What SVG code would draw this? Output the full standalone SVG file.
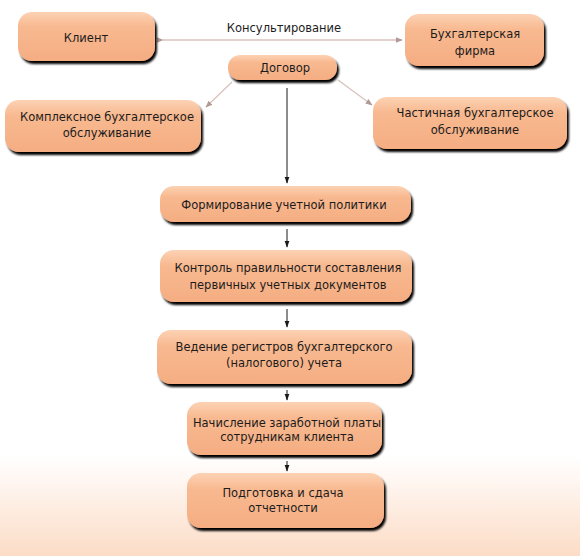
<svg xmlns="http://www.w3.org/2000/svg" width="580" height="556" viewBox="0 0 580 556">
<defs>
  <linearGradient id="bg" x1="0" y1="0" x2="0" y2="1">
    <stop offset="0" stop-color="#ffffff"/>
    <stop offset="0.82" stop-color="#ffffff"/>
    <stop offset="1" stop-color="#fcdcc6"/>
  </linearGradient>
  <linearGradient id="box" x1="0" y1="0" x2="0" y2="1">
    <stop offset="0" stop-color="#fcd2b4"/>
    <stop offset="0.3" stop-color="#f8b990"/>
    <stop offset="1" stop-color="#f5ad82"/>
  </linearGradient>
  <filter id="sh" x="-10%" y="-20%" width="125%" height="150%">
    <feGaussianBlur in="SourceAlpha" stdDeviation="0.9"/>
    <feOffset dx="2" dy="3" result="b"/>
    <feComponentTransfer><feFuncA type="linear" slope="1"/></feComponentTransfer>
    <feMerge><feMergeNode/><feMergeNode in="SourceGraphic"/></feMerge>
  </filter>
  <marker id="ag" viewBox="0 0 10 10" refX="9" refY="5" markerWidth="7" markerHeight="7" orient="auto" markerUnits="userSpaceOnUse">
    <path d="M0,1 L10,5 L0,9 z" fill="#b09a95"/>
  </marker>
  <marker id="ak" viewBox="0 0 10 10" refX="9" refY="5" markerWidth="7" markerHeight="7" orient="auto" markerUnits="userSpaceOnUse">
    <path d="M0,1.5 L10,5 L0,8.5 z" fill="#1a1a1a"/>
  </marker>
</defs>
<style>
  .n rect { fill: url(#box); filter: url(#sh); }
  .n text { font-family: "DejaVu Sans", Verdana, sans-serif; font-size: 11.5px; fill: #1c1c1c; text-anchor: middle; }
  .lbl { font-family: "DejaVu Sans", Verdana, sans-serif; font-size: 11.5px; fill: #1c1c1c; text-anchor: middle; }
  .cg { stroke: #d9c2bc; stroke-width: 1.3; fill: none; }
  .ck { stroke: #1a1a1a; stroke-width: 1; fill: none; }
</style>
<rect x="0" y="0" width="580" height="556" fill="url(#bg)"/>

<g id="connectors">
  <line class="cg" x1="163" y1="40" x2="402" y2="40" marker-start="url(#ag)" marker-end="url(#ag)"/>
  <line class="cg" x1="232" y1="82" x2="206" y2="107" marker-end="url(#ag)"/>
  <line class="cg" x1="338" y1="80" x2="372" y2="105" marker-end="url(#ag)"/>
  <line class="ck" x1="287" y1="88" x2="287" y2="183" marker-end="url(#ak)"/>
  <line class="ck" x1="287" y1="229" x2="287" y2="247" marker-end="url(#ak)"/>
  <line class="ck" x1="287" y1="309" x2="287" y2="327" marker-end="url(#ak)"/>
  <line class="ck" x1="287" y1="390" x2="287" y2="400" marker-end="url(#ak)"/>
  <line class="ck" x1="287" y1="461" x2="287" y2="471" marker-end="url(#ak)"/>
  <text class="lbl" x="284" y="32">Консультирование</text>
</g>

<g id="n-client" class="n">
  <rect x="18" y="12" width="137" height="49" rx="14"/>
  <text x="86" y="42">Клиент</text>
</g>
<g id="n-firm" class="n">
  <rect x="405" y="14" width="139" height="52" rx="14"/>
  <text x="475" y="38">Бухгалтерская</text>
  <text x="475" y="55">фирма</text>
</g>
<g id="n-dogovor" class="n">
  <rect x="228" y="55" width="109" height="25" rx="12"/>
  <text x="285" y="72">Договор</text>
</g>
<g id="n-complex" class="n">
  <rect x="5" y="100" width="196" height="52" rx="14"/>
  <text x="107" y="121">Комплексное бухгалтерское</text>
  <text x="107" y="137">обслуживание</text>
</g>
<g id="n-partial" class="n">
  <rect x="373" y="97" width="194" height="52" rx="14"/>
  <text x="475" y="117">Частичная бухгалтерское</text>
  <text x="475" y="134">обслуживание</text>
</g>
<g id="n-policy" class="n">
  <rect x="160" y="186" width="251" height="36" rx="14"/>
  <text x="284" y="209">Формирование учетной политики</text>
</g>
<g id="n-control" class="n">
  <rect x="160" y="250" width="252" height="52" rx="14"/>
  <text x="288" y="272">Контроль правильности составления</text>
  <text x="288" y="289">первичных учетных документов</text>
</g>
<g id="n-registers" class="n">
  <rect x="157" y="330" width="255" height="54" rx="14"/>
  <text x="284" y="351">Ведение регистров бухгалтерского</text>
  <text x="284" y="367">(налогового) учета</text>
</g>
<g id="n-salary" class="n">
  <rect x="187" y="402" width="195" height="53" rx="14"/>
  <text x="287" y="427">Начисление заработной платы</text>
  <text x="287" y="441">сотрудникам клиента</text>
</g>
<g id="n-report" class="n">
  <rect x="187" y="473" width="197" height="55" rx="14"/>
  <text x="283" y="497">Подготовка и сдача</text>
  <text x="283" y="512">отчетности</text>
</g>
</svg>
